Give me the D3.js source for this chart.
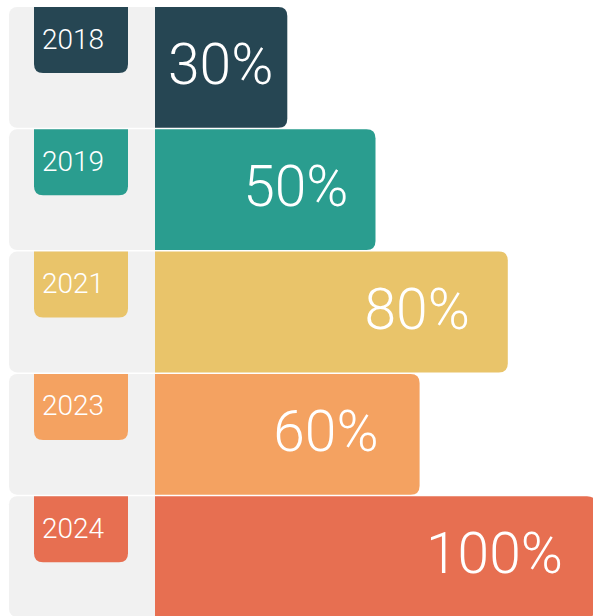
<!DOCTYPE html>
<html>
<head>
<meta charset="utf-8">
<script src="https://cdn.jsdelivr.net/npm/d3@7"></script>
<style>
  html, body { margin: 0; padding: 0; background: #ffffff; }
  svg { display: block; }
  text { font-family: "Roboto Light", Roboto, "Noto Sans", sans-serif; font-weight: 300; }
</style>
</head>
<body>
<div id="chart"></div>
<script>
// ---- data ----
const years  = ["2018", "2019", "2021", "2023", "2024"];
const values = [30, 50, 80, 60, 100];
const colors = ["#264653", "#2a9d8f", "#e9c46a", "#f4a261", "#e76f51"];

// ---- layout (not data) ----
const W = 593, H = 616;
const labelInset = [14, 27, 38, 41, 33];

const svg = d3.select("#chart").append("svg")
  .attr("width", W).attr("height", H);

const y = d3.scaleBand().domain(years).range([7, 617]).paddingInner(0.012).paddingOuter(0);
const x = d3.scaleLinear().domain([0, 100]).range([155, 596]);

const rows = years.map((yr, i) => ({ year: yr, value: values[i], color: colors[i], inset: labelInset[i] }));

function rightRounded(x0, y0, w, h, r) {
  return `M${x0},${y0} H${x0 + w - r} Q${x0 + w},${y0} ${x0 + w},${y0 + r} V${y0 + h - r} Q${x0 + w},${y0 + h} ${x0 + w - r},${y0 + h} H${x0} Z`;
}
function bottomRounded(x0, y0, w, h, r) {
  return `M${x0},${y0} H${x0 + w} V${y0 + h - r} Q${x0 + w},${y0 + h} ${x0 + w - r},${y0 + h} H${x0 + r} Q${x0},${y0 + h} ${x0},${y0 + h - r} Z`;
}

const g = svg.selectAll("g.row").data(rows).join("g").attr("class", "row");

// gray panel
g.append("rect")
  .attr("x", 9)
  .attr("y", d => y(d.year))
  .attr("width", x(0) - 9 + 12)
  .attr("height", y.bandwidth())
  .attr("rx", 8)
  .attr("fill", "#f1f1f1");

// bar
g.append("path")
  .attr("d", d => rightRounded(x(0), y(d.year), x(d.value) - x(0), y.bandwidth(), 9))
  .attr("fill", d => d.color);

// year tab
g.append("path")
  .attr("d", d => bottomRounded(34, y(d.year), 94, 66, 9))
  .attr("fill", d => d.color);

g.append("text")
  .attr("x", 42)
  .attr("y", d => y(d.year) + 41.5)
  .attr("font-size", 28)
  .attr("fill", "#ffffff")
  .text(d => d.year);

// value label
g.append("text")
  .attr("x", d => x(d.value) - d.inset)
  .attr("y", d => y(d.year) + 77)
  .attr("text-anchor", "end")
  .attr("font-size", 57)
  .attr("fill", "#ffffff")
  .text(d => d.value + "%");
</script>
</body>
</html>
